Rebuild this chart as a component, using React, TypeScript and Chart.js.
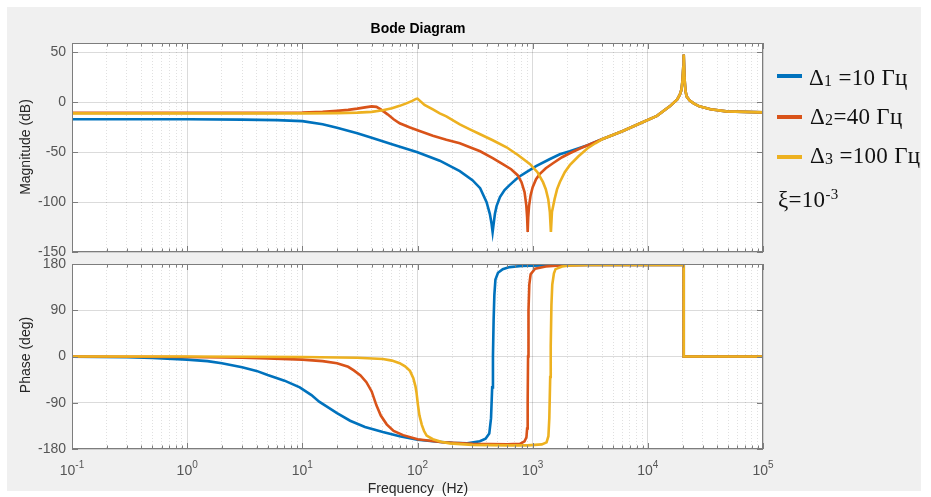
import React, { useEffect, useRef } from "react";
import { Chart, registerables } from "chart.js";

Chart.register(...registerables);

// ---------------- DATA ----------------
const seriesLabels = ["Δ1 =10 Гц", "Δ2=40 Гц", "Δ3 =100 Гц"];
const seriesColors = ["#0072BD", "#D95319", "#EDB120"];

// Magnitude (dB) – low/mid frequency part, per series
const blueMagFreq = [0.1, 1, 3, 6, 10, 15, 20, 30, 40, 60, 100, 156, 233, 300, 350, 398, 425, 440, 449, 458, 470, 486, 520, 570, 630, 750, 883, 1070, 1400, 1722, 2100, 3000];
const blueMag = [-17, -17, -17.3, -17.8, -18.8, -22, -25.5, -31, -35.5, -42, -50, -58.5, -69, -78, -86, -100, -112, -122, -130, -122, -112, -104, -95, -88, -83, -75, -70, -64, -57, -52, -49, -43];

const orangeMagFreq = [0.1, 1, 5, 10, 15, 20, 25, 30, 35, 40, 44, 48, 55, 62, 70, 85, 100, 136, 178, 233, 285, 350, 450, 550, 650, 740, 800, 850, 880, 895, 905, 915, 930, 960, 1000, 1070, 1150, 1300, 1500, 1800, 2100, 2600, 3000];
const orangeMag = [-10.5, -10.5, -10.5, -10.2, -9.5, -8.5, -7.5, -6.3, -5, -4, -4.5, -7, -12, -17, -21, -25, -28, -33.5, -37.5, -41, -45, -49, -56, -62, -67, -73, -80, -90, -103, -115, -130, -115, -104, -93, -85, -77, -72, -66, -61, -55, -51, -46, -43];

const yellowMagFreq = [0.1, 1, 10, 20, 30, 40, 50, 60, 70, 80, 90, 97, 100, 104, 115, 136, 156, 178, 233, 285, 350, 450, 593, 750, 950, 1100, 1230, 1300, 1365, 1410, 1440, 1470, 1550, 1630, 1720, 1900, 2100, 2500, 3000, 3500];
const yellowMag = [-11, -11, -11, -10.8, -10.3, -9.5, -8, -6, -3.5, -1, 1.5, 3.5, 3.8, 2, -2.5, -7, -11, -14, -22, -27, -32, -38, -45, -53, -62, -70, -80, -87, -97, -110, -130, -110, -97, -87, -80, -70, -63, -54, -46, -41];

// Magnitude (dB) – common high frequency part (all three curves coincide)
const hiMagFreq = [4000, 6000, 9000, 12000, 15500, 18000, 19000, 19600, 20000, 20300, 20500, 20800, 21200, 21700, 23000, 25000, 28000, 35000, 48000, 100000];
const hiMag = [-37, -29, -20, -13.5, -4, 3, 8, 13, 22, 35, 48, 25, 12, 6, 2, -1, -4, -7, -9, -10];

// Phase (deg)
const bluePhaseFreq = [0.1, 0.3, 0.5, 1, 1.5, 2, 3, 4, 5, 7, 9.5, 12, 14, 17, 20, 26, 35, 50, 70, 100, 150, 200, 270, 348, 390, 420, 435, 445, 452, 458, 465, 475, 500, 550, 630, 800, 1230, 2000];
const bluePhase = [-0.5, -1.5, -3, -6, -9, -13, -21, -28, -36, -47, -60, -75, -88, -100, -110, -125, -137, -147, -155, -162, -166, -168, -169, -165, -160, -150, -120, -60, 0, 70, 120, 150, 163, 170, 174, 176, 177, 178];

const orangePhaseFreq = [0.1, 1, 3, 5, 10, 15, 20, 25, 28, 32, 36, 40, 44, 48, 54, 62, 75, 100, 165, 300, 600, 775, 850, 883, 895, 905, 912, 920, 935, 960, 1050, 1300, 1720, 3000];
const orangePhase = [0, -1, -2.5, -4, -6, -9, -13, -20, -27, -37, -50, -68, -95, -115, -132, -145, -153, -161, -167, -170, -171, -170, -165, -157, -140, -90, 0, 90, 140, 160, 171, 175, 177, 178];

const yellowPhaseFreq = [0.1, 1, 10, 30, 50, 60, 70, 78, 86, 92, 96, 98, 101, 104, 109, 114, 120, 136, 160, 190, 300, 600, 900, 1200, 1320, 1370, 1395, 1420, 1435, 1455, 1480, 1530, 1580, 1800, 2100, 3000];
const yellowPhase = [0, 0, -1, -2.5, -5, -8, -13, -19, -28, -42, -58, -70, -95, -115, -133, -145, -154, -161, -166, -169, -172, -173, -173, -171, -167, -155, -120, -40, 20, 100, 140, 162, 170, 175, 177, 178];

// Phase – common high frequency part (flat at +180, drop to 0 at the resonance)
const hiPhaseFreq = [20500, 20500, 100000];
const hiPhase = [178, 0, 0];

// Axes / ticks
const xMajorTicks = [0.1, 1, 10, 100, 1000, 10000, 100000];
const xTickExponents = ["-1", "0", "1", "2", "3", "4", "5"];
const xMinorMultipliers = [2, 3, 4, 5, 6, 7, 8, 9];
const magTicks = [-150, -100, -50, 0, 50];
const phaseTicks = [-180, -90, 0, 90, 180];

// ---------------- HELPERS ----------------
const SANS = '"Liberation Sans", Arial, Helvetica, sans-serif';
const SERIF = '"Liberation Serif", "Times New Roman", Times, serif';
const TICK_COLOR = "#555555";

const xGridValues: number[] = [];
xMajorTicks.forEach((m, i) => {
  xGridValues.push(m);
  if (i < xMajorTicks.length - 1) xMinorMultipliers.forEach((k) => xGridValues.push(m * k));
});

const isMajor = (v: number) => Math.abs(Math.log10(v) - Math.round(Math.log10(v))) < 1e-6;

const toPts = (f: number[], v: number[]) => f.map((x, i) => ({ x, y: v[i] }));

function datasets(kind: "mag" | "phase") {
  const sets =
    kind === "mag"
      ? [
          toPts(blueMagFreq.concat(hiMagFreq), blueMag.concat(hiMag)),
          toPts(orangeMagFreq.concat(hiMagFreq), orangeMag.concat(hiMag)),
          toPts(yellowMagFreq.concat(hiMagFreq), yellowMag.concat(hiMag)),
        ]
      : [
          toPts(bluePhaseFreq.concat(hiPhaseFreq), bluePhase.concat(hiPhase)),
          toPts(orangePhaseFreq.concat(hiPhaseFreq), orangePhase.concat(hiPhase)),
          toPts(yellowPhaseFreq.concat(hiPhaseFreq), yellowPhase.concat(hiPhase)),
        ];
  return sets.map((data, i) => ({
    label: seriesLabels[i],
    data,
    borderColor: seriesColors[i],
    backgroundColor: seriesColors[i],
    borderWidth: 2.6,
    pointRadius: 0,
    fill: false,
    tension: 0,
    order: 2 - i, // later series on top, like MATLAB
  }));
}

const matlabAxesPlugin = {
  id: "matlabAxes",
  beforeDraw(chart: any) {
    const { ctx, chartArea: a } = chart;
    ctx.save();
    ctx.fillStyle = "#ffffff";
    ctx.fillRect(a.left, a.top, a.right - a.left, a.bottom - a.top);
    ctx.restore();
  },
  afterDatasetsDraw(chart: any) {
    const { ctx, chartArea: a, scales } = chart;
    ctx.save();
    ctx.strokeStyle = "#7d7d7d";
    ctx.lineWidth = 1;
    ctx.strokeRect(a.left + 0.5, a.top + 0.5, a.right - a.left - 1, a.bottom - a.top - 1);
    const line = (x1: number, y1: number, x2: number, y2: number) => {
      ctx.beginPath();
      ctx.moveTo(x1, y1);
      ctx.lineTo(x2, y2);
      ctx.stroke();
    };
    const xs = scales.x;
    xs.ticks.forEach((t: any) => {
      const px = Math.round(xs.getPixelForValue(t.value)) + 0.5;
      const len = isMajor(t.value) ? 6 : 3.5;
      line(px, a.bottom, px, a.bottom - len);
      line(px, a.top, px, a.top + len);
    });
    const ys = scales.y;
    ys.ticks.forEach((t: any) => {
      const py = Math.round(ys.getPixelForValue(t.value)) + 0.5;
      line(a.left, py, a.left + 6, py);
      line(a.right, py, a.right - 6, py);
    });
    ctx.restore();
  },
};

const xLabelsPlugin = {
  id: "xPowerLabels",
  afterDraw(chart: any) {
    const { ctx, chartArea: a, scales } = chart;
    const xs = scales.x;
    ctx.save();
    ctx.fillStyle = TICK_COLOR;
    ctx.textBaseline = "alphabetic";
    ctx.textAlign = "left";
    xMajorTicks.forEach((v, i) => {
      const px = xs.getPixelForValue(v);
      ctx.font = `14px ${SANS}`;
      const w1 = ctx.measureText("10").width;
      ctx.font = `10px ${SANS}`;
      const w2 = ctx.measureText(xTickExponents[i]).width;
      const start = px - (w1 + w2) / 2;
      const base = a.bottom + 26;
      ctx.font = `14px ${SANS}`;
      ctx.fillText("10", start, base);
      ctx.font = `10px ${SANS}`;
      ctx.fillText(xTickExponents[i], start + w1, base - 7);
    });
    ctx.restore();
  },
};

function xScale(height: number) {
  return {
    type: "logarithmic",
    min: 0.1,
    max: 100000,
    afterBuildTicks: (s: any) => {
      s.ticks = xGridValues.map((v) => ({ value: v, major: isMajor(v) }));
    },
    afterFit: (s: any) => {
      s.height = height;
    },
    ticks: { display: false, autoSkip: false },
    grid: {
      drawTicks: false,
      lineWidth: 1,
      color: (c: any) =>
        c.tick && isMajor(c.tick.value) ? "rgba(0,0,0,0.14)" : "rgba(0,0,0,0.12)",
    },
    border: {
      display: false,
      dash: (c: any) => (c.tick && !isMajor(c.tick.value) ? [1, 2] : []),
    },
  };
}

function yScale(min: number, max: number, ticks: number[]) {
  return {
    type: "linear",
    min,
    max,
    afterBuildTicks: (s: any) => {
      s.ticks = ticks.map((v) => ({ value: v }));
    },
    afterFit: (s: any) => {
      s.width = 72;
    },
    ticks: {
      autoSkip: false,
      color: TICK_COLOR,
      padding: 6,
      font: { family: SANS, size: 14, lineHeight: 1 },
      callback: (v: any) => String(v),
    },
    grid: { drawTicks: false, color: "rgba(0,0,0,0.14)", lineWidth: 1 },
    border: { display: false },
  };
}

function config(kind: "mag" | "phase"): any {
  const isMag = kind === "mag";
  return {
    type: "line",
    data: { datasets: datasets(kind) },
    options: {
      animation: false,
      responsive: false,
      maintainAspectRatio: false,
      devicePixelRatio: 1,
      events: [],
      layout: { padding: { left: 0, right: 168, top: isMag ? 43 : 14, bottom: 0 } },
      plugins: { legend: { display: false }, tooltip: { enabled: false }, title: { display: false } },
      scales: {
        x: xScale(isMag ? 18 : 48),
        y: isMag ? yScale(-150, 59.5, magTicks) : yScale(-180, 180, phaseTicks),
      },
    },
    plugins: isMag ? [matlabAxesPlugin] : [matlabAxesPlugin, xLabelsPlugin],
  };
}

// ---------------- COMPONENT ----------------
const abs = (s: React.CSSProperties): React.CSSProperties => ({ position: "absolute", ...s });

const LEGEND_FONT = 23;

function LegendRow(props: { color: string; lineY: number; textTop: number; textLeft: number; idx: string; rest: string }) {
  return (
    <>
      <div style={abs({ left: 777, top: props.lineY - 2, width: 25, height: 4, background: props.color })} />
      <div
        style={abs({
          left: props.textLeft,
          top: props.textTop,
          fontFamily: SERIF,
          fontSize: LEGEND_FONT,
          lineHeight: `${LEGEND_FONT}px`,
          letterSpacing: 0.3,
          color: "#111",
          whiteSpace: "pre",
        })}
      >
        Δ<span style={{ fontSize: 16, position: "relative", top: 1 }}>{props.idx}</span>
        {props.rest}
      </div>
    </>
  );
}

export default function App() {
  const magRef = useRef<HTMLCanvasElement>(null);
  const phRef = useRef<HTMLCanvasElement>(null);

  useEffect(() => {
    const c1 = new Chart(magRef.current as HTMLCanvasElement, config("mag"));
    const c2 = new Chart(phRef.current as HTMLCanvasElement, config("phase"));
    return () => {
      c1.destroy();
      c2.destroy();
    };
  }, []);

  const axisTitle: React.CSSProperties = {
    fontFamily: SANS,
    fontSize: 14,
    lineHeight: "16px",
    color: "#262626",
  };

  return (
    <div style={abs({ left: 0, top: 0, width: 931, height: 497, background: "#ffffff", overflow: "hidden" })}>
      <div style={abs({ left: 7, top: 7, width: 914, height: 484, background: "#f0f0f0" })} />
      <canvas ref={magRef} width={931} height={270} style={abs({ left: 0, top: 0, width: 931, height: 270 })} />
      <canvas ref={phRef} width={931} height={247} style={abs({ left: 0, top: 250, width: 931, height: 247 })} />

      <div
        style={abs({
          left: 318,
          top: 20,
          width: 200,
          textAlign: "center",
          fontFamily: SANS,
          fontWeight: "bold",
          fontSize: 14,
          lineHeight: "16px",
          color: "#000",
        })}
      >
        Bode Diagram
      </div>
      <div style={abs({ ...axisTitle, left: 25, top: 147, transform: "translate(-50%, -50%) rotate(-90deg)", whiteSpace: "nowrap" })}>
        Magnitude (dB)
      </div>
      <div style={abs({ ...axisTitle, left: 25, top: 355, transform: "translate(-50%, -50%) rotate(-90deg)", whiteSpace: "nowrap" })}>
        Phase (deg)
      </div>
      <div style={abs({ ...axisTitle, left: 418, top: 488, transform: "translate(-50%, -50%)", whiteSpace: "pre" })}>
        {"Frequency  (Hz)"}
      </div>

      <LegendRow color={seriesColors[0]} lineY={75.7} textTop={65.5} textLeft={809} idx="1" rest=" =10 Гц" />
      <LegendRow color={seriesColors[1]} lineY={116.5} textTop={104.5} textLeft={810} idx="2" rest="=40 Гц" />
      <LegendRow color={seriesColors[2]} lineY={156.5} textTop={143.5} textLeft={810} idx="3" rest=" =100 Гц" />
      <div
        style={abs({
          left: 778,
          top: 187.5,
          fontFamily: SERIF,
          fontSize: LEGEND_FONT,
          lineHeight: `${LEGEND_FONT}px`,
          letterSpacing: 0.3,
          color: "#111",
          whiteSpace: "pre",
        })}
      >
        ξ=10<span style={{ fontSize: 15, position: "relative", top: -8 }}>-3</span>
      </div>
    </div>
  );
}
